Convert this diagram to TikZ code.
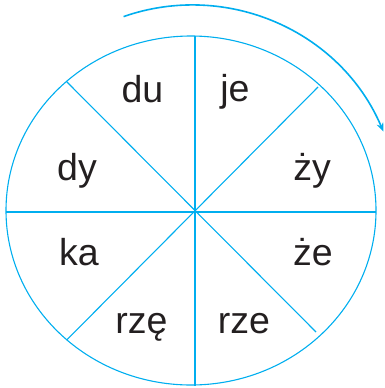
\documentclass[tikz,border=0pt]{standalone}
\usepackage{fontspec}
\setmainfont{Liberation Sans}
\usetikzlibrary{arrows.meta}
\definecolor{cyanline}{RGB}{0,174,239}
\definecolor{txt}{RGB}{35,31,32}
\begin{document}
\begin{tikzpicture}[x=1pt,y=-1pt,
  wheel/.style={draw=cyanline,line width=1.1pt},
  syl/.style={anchor=base,inner sep=0pt,text=txt,font=\fontsize{37.5}{40}\selectfont}]
\useasboundingbox (0,0) rectangle (384,388);
\coordinate (c) at (194.5,211.5);
\draw[wheel] (191,210.5) ellipse [x radius=185,y radius=174.5];
\coordinate (n) at (195,36);
\coordinate (s) at (195,385.5);
\coordinate (w) at (6,212);
\coordinate (e) at (376,212);
\coordinate (nw) at (66.7,81.7);
\coordinate (ne) at (318,87);
\coordinate (sw) at (66.7,340);
\coordinate (se) at (316,332);
\draw[wheel] (n) -- (s);
\draw[wheel] (w) -- (e);
\draw[wheel] (nw) -- (se);
\draw[wheel] (ne) -- (sw);
\draw[cyanline,line width=1.6pt,-{Stealth[length=9pt,width=7pt]}] (192,213) ++(-109.2:208) arc[start angle=-109.2,end angle=-23,radius=208];
\node[syl] (du) at (142.5,102.7) {du};
\node[syl] (je) at (235,101.7) {je};
\node[syl] (dy) at (77,180) {dy};
\node[syl] (zy) at (312,180) {ży};
\node[syl] (ka) at (79,265) {ka};
\node[syl] (ze) at (313,265) {że};
\node[syl] (rze2) at (141.5,333) {rzę};
\node[syl] (rze) at (244,333) {rze};
\end{tikzpicture}
\end{document}
